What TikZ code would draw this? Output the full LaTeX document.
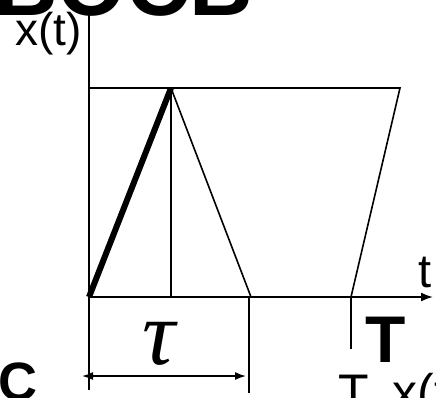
\documentclass[tikz,border=0pt]{standalone}
\usepackage{fontspec}
\setmainfont{Liberation Sans}
\newfontfamily\serifgreek{Liberation Serif}
\usetikzlibrary{arrows.meta}
\begin{document}
\begin{tikzpicture}[x=1pt,y=-1pt,
  thinln/.style={line width=1.6pt},
  thickln/.style={line width=6pt},
  axisln/.style={line width=1.8pt},
  lbl/.style={inner sep=0pt,anchor=base west}]
\useasboundingbox (0,0) rectangle (436,397);
\clip (0,0) rectangle (436,397);
% coordinates
\coordinate (O) at (89,297);
\coordinate (ytop) at (89,8);
\coordinate (xend) at (433,297);
\coordinate (P) at (171,88);
\coordinate (Pb) at (171,297);
\coordinate (TL) at (89,88);
\coordinate (TR) at (400,88);
\coordinate (Q) at (251,297);
\coordinate (R) at (351,297);
\coordinate (Rb) at (351,349);
\coordinate (Lb) at (89,390);
\coordinate (Mt) at (249,297);
\coordinate (Mb) at (249,393);
\coordinate (AL) at (82,376);
\coordinate (AR) at (246,376);
% axes
\draw[axisln,-{Latex[length=12pt,width=9pt]}] (O) -- (xend);
\draw[axisln] (O) -- (ytop);
% shapes
\draw[thinln] (TL) -- (TR) -- (R);
\draw[thinln] (P) -- (Pb);
\draw[thinln] (P) -- (Q);
\draw[thickln] (O) -- (P);
% ticks and dimension
\draw[thinln] (R) -- (Rb);
\draw[thinln] (O) -- (Lb);
\draw[thinln] (Mt) -- (Mb);
\draw[thinln,{Latex[length=11pt,width=8pt]}-{Latex[length=11pt,width=8pt]}] (AL) -- (AR);
% labels
\node[lbl,font=\fontsize{46}{46}\selectfont] (xt) at (15,45) {x(t)};
\node[lbl,font=\fontsize{88}{88}\selectfont\bfseries] (title) at (-6,15) {BOCB};
\node[lbl,font=\fontsize{47}{47}\selectfont] (tl) at (418,287) {t};
\node[lbl,font=\fontsize{92}{92}\selectfont\serifgreek\itshape] (tau) at (142,364) {τ};
\node[lbl,font=\fontsize{66}{66}\selectfont\bfseries] (Tb) at (365,362) {T};
\node[lbl,font=\fontsize{54}{54}\selectfont\bfseries] (C) at (-2,400) {C};
\node[lbl,font=\fontsize{50}{50}\selectfont] (Tx) at (338,409) {T\hspace{24pt}x(t)};
\end{tikzpicture}
\end{document}
